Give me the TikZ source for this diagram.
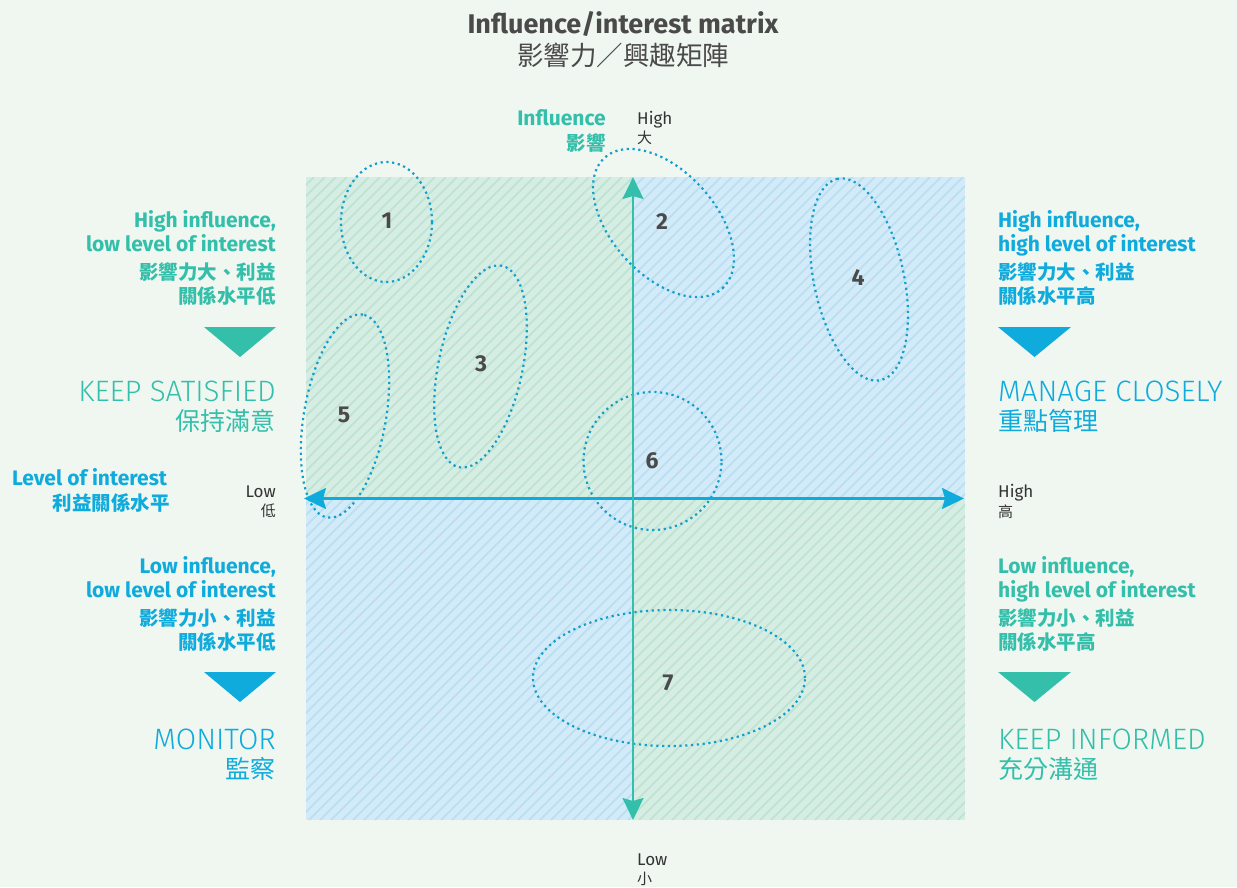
\documentclass[tikz,border=0pt]{standalone}
\usepackage{fontspec}
\setmainfont{Fira Sans}
\newfontfamily\cjk{Noto Sans CJK TC}
\newfontfamily\thin{Fira Sans Light}
\usetikzlibrary{arrows.meta}
\definecolor{paper}{HTML}{F0F7F1}
\definecolor{mint}{HTML}{33BFAA}
\definecolor{sky}{HTML}{0FABDD}
\definecolor{mintfill}{HTML}{D6EDE4}
\definecolor{mintline}{HTML}{C0E4D4}
\definecolor{skyfill}{HTML}{D3EBF8}
\definecolor{skyline}{HTML}{BBDFF3}
\definecolor{ink}{HTML}{4A4A4A}
\definecolor{ringblue}{HTML}{139FCC}
\tikzset{
  >={Stealth[length=22pt,width=21pt,inset=3pt]},
  ring/.style={draw=ringblue,line width=2.2pt,dash pattern=on 2.2pt off 3.6pt},
  num/.style={font=\bfseries\fontsize{23}{27}\selectfont,text=ink},
  hd/.style={font=\bfseries\fontsize{21}{25}\selectfont,inner sep=0pt},
  hdc/.style={font=\cjk\bfseries\fontsize{19.5}{23}\selectfont,inner sep=0pt},
  act/.style={font=\thin\fontsize{29.5}{34}\selectfont,inner sep=0pt},
  actc/.style={font=\cjk\fontsize{25}{30}\selectfont,inner sep=0pt},
  axl/.style={font=\fontsize{17}{20}\selectfont,text=black!80,inner sep=0pt},
  axlc/.style={font=\cjk\fontsize{15}{18}\selectfont,text=black!80,inner sep=0pt},
  lft/.style={anchor=base east},
  rgt/.style={anchor=base west},
}
\begin{document}
\begin{tikzpicture}[x=1pt,y=-1pt]
  \useasboundingbox (0,0) rectangle (1237,887);
  \fill[paper] (0,0) rectangle (1237,887);
  % quadrants
  \begin{scope}
    \clip (306,177) rectangle (633,498) (633,498) rectangle (965,820);
    \fill[mintfill] (306,177) rectangle (965,820);
    \foreach \k in {-340,-329,...,965} \draw[mintline,line width=2pt] (\k,820) -- ++(643,-643);
  \end{scope}
  \begin{scope}
    \clip (633,177) rectangle (965,498) (306,498) rectangle (633,820);
    \fill[skyfill] (306,177) rectangle (965,820);
    \foreach \k in {-340,-329,...,965} \draw[skyline,line width=2pt] (\k,820) -- ++(643,-643);
  \end{scope}
  % stakeholders
  \node[num] (n1) at (387,221) {1};
  \node[num] (n2) at (662,222) {2};
  \node[num] (n3) at (481,364) {3};
  \node[num] (n4) at (858,278) {4};
  \node[num] (n5) at (344,415) {5};
  \node[num] (n6) at (652,461) {6};
  \node[num] (n7) at (668,683) {7};
  \draw[ring] (386.5,222) ellipse [x radius=45.5pt,y radius=60pt];
  \draw[ring,rotate around={-48:(663.5,223)}] (663.5,223) ellipse [x radius=88pt,y radius=52pt];
  \draw[ring,rotate around={78:(480.5,366.5)}] (480.5,366.5) ellipse [x radius=103pt,y radius=42pt];
  \draw[ring,rotate around={102:(859,279.5)}] (859,279.5) ellipse [x radius=103pt,y radius=45pt];
  \draw[ring,rotate around={80:(345,416)}] (345,416) ellipse [x radius=103pt,y radius=41pt];
  \draw[ring] (652.5,461) circle [radius=69pt];
  \draw[ring] (669,678) ellipse [x radius=136pt,y radius=68pt];
  % axes
  \coordinate (hL) at (304,498.5);
  \coordinate (hR) at (964,498.5);
  \coordinate (vT) at (633,177);
  \coordinate (vB) at (633,820);
  \draw[<->,sky,line width=2.2pt] (hL) -- (hR);
  \draw[<->,mint,line width=2.2pt] (vB) -- (vT);
  % title
  \node[font=\bfseries\fontsize{27}{32}\selectfont,text=ink,anchor=base,inner sep=0pt] (title) at (623,33) {Influence/interest matrix};
  \node[font=\cjk\fontsize{26.5}{31}\selectfont,text=ink,anchor=base,inner sep=0pt] (titlezh) at (623,65) {影響力／興趣矩陣};
  % axis labels
  \node[hd,mint,lft] (infl) at (606,125) {Influence};
  \node[hdc,mint,lft] (inflzh) at (606,150) {影響};
  \node[axl,rgt] (vhi) at (637,124) {High};
  \node[axlc,rgt] (vhizh) at (637,143) {大};
  \node[axl,rgt] (vlo) at (637,865) {Low};
  \node[axlc,rgt] (vlozh) at (637,884) {小};
  \node[hd,sky,rgt] (intr) at (12,485) {Level of interest};
  \node[hdc,sky,lft] (intrzh) at (170,510) {利益關係水平};
  \node[axl,lft] (hlo) at (276,497) {Low};
  \node[axlc,lft] (hlozh) at (276,516) {低};
  \node[axl,rgt] (hhi) at (998,497) {High};
  \node[axlc,rgt] (hhizh) at (998,517) {高};
  % keep satisfied
  \node[hd,mint,lft] (ks1) at (276,227) {High influence,};
  \node[hd,mint,lft] (ks2) at (276,251) {low level of interest};
  \node[hdc,mint,lft] (ks3) at (276,279) {影響力大、利益};
  \node[hdc,mint,lft] (ks4) at (276,303) {關係水平低};
  \fill[mint] (204,327) -- (276,327) -- (240,357) -- cycle;
  \node[act,mint,lft] (ks) at (276,401) {KEEP SATISFIED};
  \node[actc,mint,lft] (kszh) at (276,430) {保持滿意};
  % manage closely
  \node[hd,sky,rgt] (mc1) at (998,227) {High influence,};
  \node[hd,sky,rgt] (mc2) at (998,251) {high level of interest};
  \node[hdc,sky,rgt] (mc3) at (998,279) {影響力大、利益};
  \node[hdc,sky,rgt] (mc4) at (998,303) {關係水平高};
  \fill[sky] (998,327) -- (1071,327) -- (1034.5,357) -- cycle;
  \node[act,sky,rgt] (mc) at (998,401) {MANAGE CLOSELY};
  \node[actc,sky,rgt] (mczh) at (998,430) {重點管理};
  % monitor
  \node[hd,sky,lft] (mo1) at (276,573) {Low influence,};
  \node[hd,sky,lft] (mo2) at (276,597) {low level of interest};
  \node[hdc,sky,lft] (mo3) at (276,625) {影響力小、利益};
  \node[hdc,sky,lft] (mo4) at (276,649) {關係水平低};
  \fill[sky] (204,672) -- (276,672) -- (240,702) -- cycle;
  \node[act,sky,lft] (mo) at (276,749) {MONITOR};
  \node[actc,sky,lft] (mozh) at (276,778) {監察};
  % keep informed
  \node[hd,mint,rgt] (ki1) at (998,573) {Low influence,};
  \node[hd,mint,rgt] (ki2) at (998,597) {high level of interest};
  \node[hdc,mint,rgt] (ki3) at (998,625) {影響力小、利益};
  \node[hdc,mint,rgt] (ki4) at (998,649) {關係水平高};
  \fill[mint] (998,672) -- (1071,672) -- (1034.5,702) -- cycle;
  \node[act,mint,rgt] (ki) at (998,749) {KEEP INFORMED};
  \node[actc,mint,rgt] (kizh) at (998,778) {充分溝通};
\end{tikzpicture}
\end{document}
